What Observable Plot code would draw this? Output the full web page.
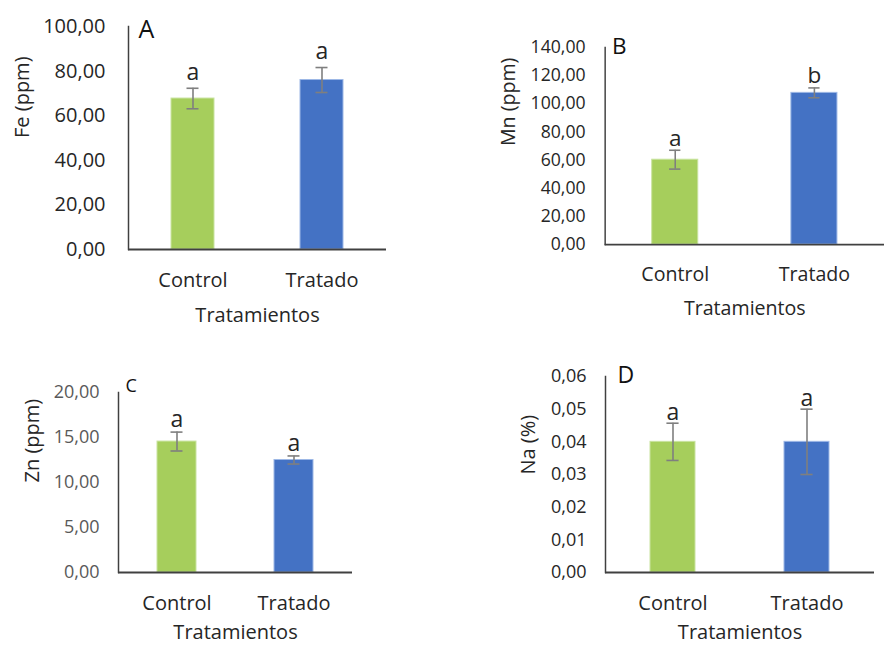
<!DOCTYPE html>
<html><head><meta charset="utf-8">
<script src="https://cdn.jsdelivr.net/npm/d3@7"></script>
<script src="https://cdn.jsdelivr.net/npm/@observablehq/plot@0.6"></script>
<style>
body{margin:0;background:#fff;}
#wrap{position:relative;width:884px;height:646px;overflow:hidden;font-family:"Open Sans",sans-serif;}
#wrap > .panel{position:absolute;}
</style></head><body><div id="wrap"></div>
<script>
// ---- data ----
const categories = ["Control", "Tratado"];
const barColors = ["#A6CE5C", "#4472C4"];
const barOutline = ["#C9E3A0", "#9DB8E6"];

const feMean = [67.7, 76.0];
const feErr = [4.6, 5.6];
const feLetters = ["a", "a"];
const feTicks = [0, 20, 40, 60, 80, 100];

const mnMean = [60.3, 107.8];
const mnErr = [6.7, 3.5];
const mnLetters = ["a", "b"];
const mnTicks = [0, 20, 40, 60, 80, 100, 120, 140];

const znMean = [14.55, 12.5];
const znErr = [1.05, 0.45];
const znLetters = ["a", "a"];
const znTicks = [0, 5, 10, 15, 20];

const naMean = [0.040, 0.040];
const naErr = [0.0057, 0.010];
const naLetters = ["a", "a"];
const naTicks = [0, 0.01, 0.02, 0.03, 0.04, 0.05, 0.06];

const xTitle = "Tratamientos";

// ---- rendering ----
const fmt = d3.formatLocale({decimal: ",", thousands: ".", grouping: [3], currency: ["", ""]});
const wrap = document.getElementById("wrap");
const FONT = "'Open Sans', sans-serif";

function panel(cfg) {
  const rows = categories.map((c, i) => ({
    cat: c, mean: cfg.means[i], lo: cfg.means[i] - cfg.errs[i], hi: cfg.means[i] + cfg.errs[i],
    letter: cfg.letters[i], fill: barColors[i], outline: barOutline[i]
  }));
  const m = cfg.margins;
  const frameW = cfg.width - m.left - m.right;
  const bw = frameW / categories.length / 3;
  const capInset = (bw - 12) / 2;
  const ink = "#262626";
  const chart = Plot.plot({
    width: cfg.width, height: cfg.height,
    marginLeft: m.left, marginRight: m.right, marginTop: m.top, marginBottom: m.bottom,
    style: {fontFamily: FONT, background: "transparent", overflow: "visible", color: ink},
    x: {domain: categories, paddingInner: 2/3, paddingOuter: 1/3, axis: null},
    y: {domain: [cfg.ticks[0], cfg.ticks[cfg.ticks.length - 1]], axis: null},
    color: {type: "identity"},
    marks: [
      Plot.barY(rows, {x: "cat", y: "mean", fill: "fill", stroke: "outline", strokeWidth: 1}),
      Plot.ruleX(rows, {x: "cat", y1: "lo", y2: "hi", stroke: "#7F7F7F", strokeWidth: 1.6}),
      Plot.tickY(rows, {x: "cat", y: "lo", stroke: "#7F7F7F", strokeWidth: 1.6, insetLeft: capInset, insetRight: capInset}),
      Plot.tickY(rows, {x: "cat", y: "hi", stroke: "#7F7F7F", strokeWidth: 1.6, insetLeft: capInset, insetRight: capInset}),
      Plot.text(rows, {x: "cat", y: "hi", text: "letter", dy: cfg.letterDy, lineAnchor: "middle", fontSize: 23, fill: ink}),
      Plot.frame({anchor: "left", stroke: "#404040", strokeWidth: 1.5}),
      Plot.ruleY([cfg.ticks[0]], {stroke: "#404040", strokeWidth: 1.8}),
      Plot.axisY({ticks: cfg.ticks, tickSize: 0, tickPadding: cfg.tickPad, tickFormat: fmt.format(".2f"),
        fontSize: cfg.tickFont, fill: cfg.tickColor, label: null}),
      Plot.axisX({tickSize: 0, tickPadding: cfg.catPad, fontSize: 20, fill: ink, label: null}),
      Plot.text([xTitle], {frameAnchor: "bottom", dy: cfg.titleDy, lineAnchor: "top", fontSize: 20, fill: ink}),
      Plot.text([cfg.yLabel], {frameAnchor: "left", rotate: -90, dx: cfg.yLabelDx, lineAnchor: "middle", fontSize: 20, fill: ink}),
      Plot.text([cfg.tag], {frameAnchor: "top-left", dx: cfg.tagDx, dy: cfg.tagDy, textAnchor: "start", lineAnchor: "middle", fontSize: cfg.tagSize, fill: "#111"})
    ]
  });
  const div = document.createElement("div");
  div.className = "panel";
  div.style.left = cfg.left + "px";
  div.style.top = cfg.top + "px";
  div.appendChild(chart);
  wrap.appendChild(div);
}

panel({left: 0, top: 0, width: 440, height: 330, margins: {left: 128, right: 54, top: 26, bottom: 81},
  means: feMean, errs: feErr, letters: feLetters, ticks: feTicks, yLabel: "Fe (ppm)", tag: "A",
  tickFont: 20, tickColor: "#262626", tickPad: 23, catPad: 23, titleDy: 58, yLabelDx: -106,
  tagDx: 10, tagDy: 3, tagSize: 25, letterDy: -16});

panel({left: 440, top: 0, width: 453, height: 330, margins: {left: 168, right: 0, top: 48, bottom: 81},
  means: mnMean, errs: mnErr, letters: mnLetters, ticks: mnTicks, yLabel: "Mn (ppm)", tag: "B",
  tickFont: 18, tickColor: "#262626", tickPad: 20, catPad: 23, titleDy: 58, yLabelDx: -98,
  tagDx: 7, tagDy: -1, tagSize: 23, letterDy: -12});

panel({left: 0, top: 360, width: 440, height: 286, margins: {left: 118, right: 88, top: 32, bottom: 74},
  means: znMean, errs: znErr, letters: znLetters, ticks: znTicks, yLabel: "Zn (ppm)", tag: "C",
  tickFont: 18, tickColor: "#595959", tickPad: 19, catPad: 23, titleDy: 52, yLabelDx: -86,
  tagDx: 7, tagDy: -6, tagSize: 18, letterDy: -12});

panel({left: 440, top: 360, width: 444, height: 286, margins: {left: 165, right: 10, top: 16, bottom: 74},
  means: naMean, errs: naErr, letters: naLetters, ticks: naTicks, yLabel: "Na (%)", tag: "D",
  tickFont: 18, tickColor: "#262626", tickPad: 19, catPad: 23, titleDy: 52, yLabelDx: -77,
  tagDx: 12, tagDy: -1, tagSize: 23, letterDy: -11});
</script>
</body></html>
